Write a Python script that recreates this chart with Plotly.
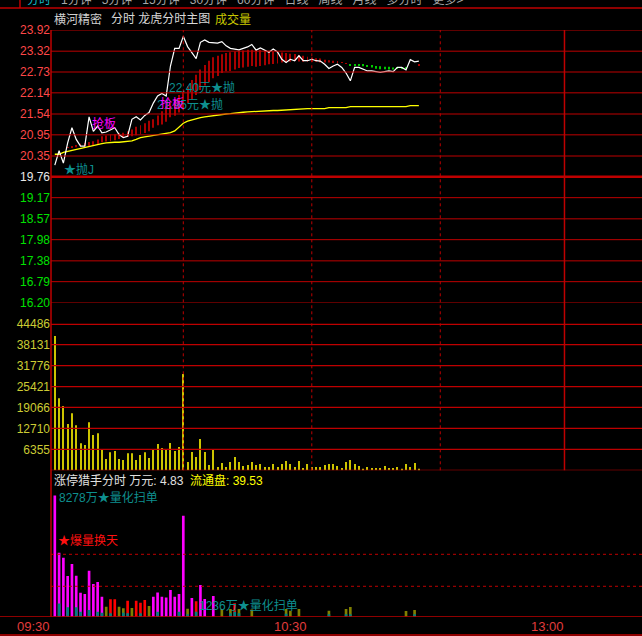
import plotly.graph_objects as go

W, H = 642, 636

# minute index, 0 = 09:30
minutes = list(range(86))

price = [20.09, 20.50, 20.15, 20.72, 21.15, 20.82, 20.63, 20.63, 21.46, 21.05,
         21.20, 21.01, 21.03, 21.08, 21.15, 20.96, 20.87, 20.91, 21.39, 21.46,
         21.37, 21.50, 21.58, 21.85, 22.05, 22.12, 22.05, 22.90, 23.40, 23.40,
         23.74, 23.45, 23.29, 23.11, 23.57, 23.64, 23.57, 23.55, 23.55, 23.59,
         23.47, 23.40, 23.38, 23.36, 23.40, 23.44, 23.51, 23.35, 23.41, 23.36,
         23.29, 23.38, 23.30, 23.09, 23.00, 23.09, 23.05, 23.19, 23.05, 23.05,
         23.09, 23.05, 23.04, 22.95, 22.83, 22.90, 22.95, 22.86, 22.70, 22.48,
         22.86, 22.86, 22.80, 22.76, 22.76, 22.74, 22.72, 22.74, 22.76, 22.74,
         22.86, 22.86, 22.79, 23.08, 23.02, 23.04]

avg_price = [20.40, 20.40, 20.45, 20.48, 20.50, 20.53, 20.55, 20.58, 20.62, 20.65,
             20.68, 20.70, 20.72, 20.74, 20.74, 20.74, 20.75, 20.76, 20.78, 20.82,
             20.87, 20.89, 20.91, 20.93, 20.95, 20.97, 20.99, 21.01, 21.06, 21.16,
             21.28, 21.34, 21.38, 21.42, 21.44, 21.46, 21.48, 21.50, 21.52, 21.53,
             21.54, 21.55, 21.57, 21.58, 21.59, 21.60, 21.61, 21.62, 21.62, 21.63,
             21.63, 21.64, 21.64, 21.65, 21.66, 21.67, 21.68, 21.69, 21.69, 21.69,
             21.69, 21.69, 21.69, 21.69, 21.72, 21.72, 21.72, 21.72, 21.72, 21.75,
             21.75, 21.75, 21.75, 21.75, 21.75, 21.75, 21.75, 21.75, 21.75, 21.75,
             21.75, 21.75, 21.75, 21.78, 21.78, 21.78]

# 龙虎 bars: drawn between the fast and slow line
fast_line = [20.58, 20.58, 20.58, 20.60, 20.63, 20.66, 20.70, 20.72, 20.75, 20.77,
             20.82, 20.91, 20.93, 20.96, 20.97, 21.00, 21.01, 21.05, 21.10, 21.18,
             21.22, 21.28, 21.35, 21.39, 21.50, 21.62, 21.75, 21.85, 21.97, 22.08,
             22.18, 22.32, 22.50, 22.65, 22.80, 22.93, 23.05, 23.15, 23.19, 23.23,
             23.27, 23.29, 23.31, 23.33, 23.34, 23.36, 23.36, 23.36, 23.36, 23.35,
             23.33, 23.31, 23.30, 23.28, 23.27, 23.25, 23.24, 23.21, 23.19, 23.16,
             23.14, 23.12, 23.11, 23.08, 23.06, 23.05, 23.03, 23.00, 22.98, 22.92,
             22.91, 22.90, 22.89, 22.88, 22.86, 22.82, 22.81, 22.81, 22.80, 22.80,
             22.83, 22.84, 22.84, 22.85, 22.86, 22.94]
slow_line = [20.58, 20.58, 20.58, 20.58, 20.58, 20.60, 20.62, 20.63, 20.63, 20.65,
             20.68, 20.74, 20.76, 20.77, 20.80, 20.83, 20.87, 20.89, 20.91, 20.94,
             20.97, 21.00, 21.05, 21.15, 21.22, 21.24, 21.32, 21.45, 21.49, 21.58,
             21.67, 21.85, 21.96, 22.08, 22.22, 22.35, 22.45, 22.55, 22.62, 22.70,
             22.75, 22.76, 22.80, 22.84, 22.86, 22.88, 22.90, 22.88, 22.90, 22.92,
             22.95, 22.96, 22.97, 23.00, 23.00, 23.02, 23.04, 23.03, 23.02, 23.02,
             23.02, 23.02, 23.00, 23.00, 23.00, 23.00, 22.99, 22.99, 22.97, 22.93,
             22.93, 22.93, 22.93, 22.92, 22.91, 22.90, 22.89, 22.88, 22.88, 22.86,
             22.86, 22.86, 22.85, 22.85, 22.86, 22.92]

volume = [40760, 21850, 19520, 14050, 17300, 13660, 8190, 7680, 14570, 10710,
          11230, 6460, 3430, 5460, 5860, 3430, 3130, 5160, 5160, 3130,
          4640, 5460, 3730, 6160, 7980, 6770, 6160, 8290, 5860, 7070,
          29230, 2520, 5550, 4040, 9500, 5550, 1610, 6160, 1000, 2220,
          1000, 2520, 4040, 2520, 1300, 1610, 2520, 1610, 1910, 1000,
          1000, 1910, 1000, 1910, 2820, 1910, 1000, 2820, 700, 1910,
          1000, 1000, 1000, 1610, 1910, 1910, 1300, 700, 2520, 3130,
          1910, 1300, 400, 1000, 700, 700, 700, 1300, 700, 700,
          1000, 400, 1910, 1000, 2220, 400]

# 涨停猎手 (万元): m = magenta, r = red, o = olive
hunter_val = [8278, 4370, 4030, 2780, 3600, 2800, 1640, 1550, 3140, 2230,
              2370, 1370, 683, 1190, 1200, 683, 570, 1090, 590, 1090,
              960, 1140, 730, 1370, 1660, 1370, 1320, 1820, 1370, 1550,
              6900, 550, 1280, 1060, 2160, 1210, 0, 1410, 0, 525,
              0, 525, 915, 525, 0, 0, 500, 0, 0, 0,
              0, 0, 0, 0, 525, 400, 0, 525, 0, 0,
              0, 0, 0, 0, 400, 0, 0, 0, 525, 660,
              0, 0, 0, 0, 0, 0, 0, 0, 0, 0,
              0, 0, 390, 0, 460, 0]
hunter_kind = ["m", "m", "m", "m", "m", "m", "m", "m", "m", "m",
               "m", "m", "o", "r", "r", "o", "o", "r", "o", "r",
               "r", "r", "o", "m", "m", "m", "m", "m", "m", "m",
               "m", "o", "m", "r", "m", "m", "", "m", "", "o",
               "", "o", "r", "o", "", "", "o", "", "", "",
               "", "", "", "", "o", "o", "", "o", "", "",
               "", "", "", "", "o", "", "", "", "o", "o",
               "", "", "", "", "", "", "", "", "", "",
               "", "", "o", "", "o", ""]
hunter_teal = [0, 910, 0, 640, 0, 640, 340, 0, 455, 0,
               340, 270, 0, 230, 0, 0, 270, 230, 0, 0,
               230, 0, 0, 0, 340, 0, 0, 0, 0, 340,
               0, 160, 0, 340, 0, 0, 0, 0, 0, 0,
               0, 230, 340, 230, 0, 0, 0, 0, 0, 0,
               0, 0, 0, 0, 200, 0, 0, 0, 0, 0,
               0, 0, 0, 0, 160, 0, 0, 0, 160, 160,
               0, 0, 0, 0, 0, 0, 0, 0, 0, 0,
               0, 0, 0, 0, 160, 0]
hunter_levels = [4262, 2077]

price_ticks = [23.92, 23.32, 22.73, 22.14, 21.54, 20.95, 20.35, 19.76,
               19.17, 18.57, 17.98, 17.38, 16.79, 16.20]
prev_close = 19.76
vol_ticks = [44486, 38131, 31776, 25421, 19066, 12710, 6355]
half_hours = [30, 60, 90]
lunch_break = 119
time_labels = ["09:30", "10:30", "13:00"]
time_pos = [0, 60, 120]

RED = "#BE0000"
TEAL = "#0E8F8F"
FONT = "Liberation Sans, Noto Sans CJK SC"
KIND_COLOR = {"m": "#FF00FF", "r": "#FF0000", "o": "#808000", "": "#000000"}


def paper_y(py):
    return 1 - py / H


price_dom = [paper_y(302.5), paper_y(30)]
vol_dom = [paper_y(470.3), paper_y(323.7)]
hunt_dom = [paper_y(616.7), paper_y(470.3)]
x_dom = [51 / W, 1]
x_rng = [-0.89, 137.1]


def tick_color(v):
    if v > prev_close:
        return "#FF4848"
    if v < prev_close:
        return "#00E000"
    return "#E8E8E8"


price_text = ['<span style="color:%s">%.2f</span>' % (tick_color(v), v) for v in price_ticks]
vol_text = [str(v) for v in vol_ticks]

fig = go.Figure()

bar_col = [("#A80000" if f >= s else "#00C800") for f, s in zip(fast_line, slow_line)]
fig.add_trace(go.Bar(x=minutes, y=[f - s for f, s in zip(fast_line, slow_line)],
                     base=slow_line, width=0.22, marker=dict(color=bar_col, line_width=0),
                     xaxis="x", yaxis="y"))
fig.add_trace(go.Scatter(x=minutes, y=avg_price, mode="lines",
                         line=dict(color="#FFFF00", width=1.3), xaxis="x", yaxis="y"))
fig.add_trace(go.Scatter(x=minutes, y=price, mode="lines",
                         line=dict(color="#FFFFFF", width=1.2), xaxis="x", yaxis="y"))

fig.add_trace(go.Bar(x=minutes, y=volume, width=0.24,
                     marker=dict(color="#CCC400", line_width=0), xaxis="x2", yaxis="y2"))

fig.add_trace(go.Bar(x=minutes, y=hunter_val, width=0.62,
                     marker=dict(color=[KIND_COLOR[k] for k in hunter_kind], line_width=0),
                     xaxis="x3", yaxis="y3"))
fig.add_trace(go.Bar(x=minutes, y=hunter_teal, width=0.62,
                     marker=dict(color="#008080", line_width=0), xaxis="x3", yaxis="y3"))

shapes = []
for v in price_ticks:
    shapes.append(dict(type="line", xref="x domain", x0=0, x1=1, yref="y", y0=v, y1=v,
                       line=dict(color=RED, width=2.5 if v == prev_close else 1)))
for v in vol_ticks + [0]:
    shapes.append(dict(type="line", xref="x2 domain", x0=0, x1=1, yref="y2", y0=v, y1=v,
                       line=dict(color=RED, width=2.5 if v == vol_ticks[0] else 1.2)))
for v in hunter_levels:
    shapes.append(dict(type="line", xref="x3 domain", x0=0, x1=1, yref="y3", y0=v, y1=v,
                       line=dict(color=RED, width=1, dash="dot")))
for m in half_hours:
    shapes.append(dict(type="line", xref="x", x0=m, x1=m, yref="paper",
                       y0=vol_dom[0], y1=price_dom[1],
                       line=dict(color=RED, width=1, dash="dot")))
shapes.append(dict(type="line", xref="x", x0=lunch_break, x1=lunch_break, yref="paper",
                   y0=vol_dom[0], y1=price_dom[1], line=dict(color=RED, width=1.5)))
shapes.append(dict(type="line", xref="paper", x0=x_dom[0], x1=x_dom[0], yref="paper",
                   y0=hunt_dom[0], y1=price_dom[1], line=dict(color=RED, width=1.5)))
# frame lines of the window
for py in [8, 635]:
    shapes.append(dict(type="line", xref="paper", x0=0, x1=1, yref="paper",
                       y0=paper_y(py), y1=paper_y(py), line=dict(color=RED, width=1.5)))
shapes.append(dict(type="line", xref="paper", x0=0, x1=1, yref="y3", y0=0, y1=0,
                   line=dict(color=RED, width=1.5)))
shapes.append(dict(type="line", xref="paper", x0=20 / W, x1=20 / W, yref="paper",
                   y0=paper_y(8), y1=1, line=dict(color=RED, width=1.5)))


def label(text, x, y, color, xref="paper", yref="paper", size=12, anchor="left", **kw):
    return dict(text=text, x=x, y=y, xref=xref, yref=yref, showarrow=False,
                xanchor=anchor, yanchor="middle", font=dict(family=FONT, size=size, color=color),
                **kw)


tabs = ('<span style="color:#10B8C8">分时</span>   1分钟   5分钟   15分钟   30分钟   '
        '60分钟   日线   周线   月线   多分时   更多&gt;')
annotations = [
    dict(text=tabs, x=25 / W, y=paper_y(9), xref="paper", yref="paper", showarrow=False,
         xanchor="left", yanchor="bottom", font=dict(family=FONT, size=12, color="#A8A8A8")),
    label("横河精密", 52 / W, paper_y(19), "#D0D0D0"),
    label("分时 龙虎分时主图", 109 / W, paper_y(19), "#D8D8D8"),
    label("成交量", 213 / W, paper_y(19), "#C8C800"),
    label("★抛J", 1.7, 19.98, TEAL, xref="x", yref="y"),
    label("抢板", 8.2, 21.26, "#FF00FF", xref="x", yref="y"),
    label("22.40元★抛", 26.2, 22.28, TEAL, xref="x", yref="y"),
    label("21.95元★抛", 23.4, 21.82, TEAL, xref="x", yref="y"),
    label("抢板", 24.1, 21.85, "#FF00FF", xref="x", yref="y"),
    label("涨停猎手分时 万元: 4.83", 52 / W, paper_y(480), "#E0E0E0"),
    label("流通盘: 39.53", 188 / W, paper_y(480), "#FFFF00"),
    label("8278万★量化扫单", 0.5, 8107, TEAL, xref="x3", yref="y3"),
    label("★爆量换天", 0.3, 5170, "#FF1010", xref="x3", yref="y3"),
    label("1236万★量化扫单", 33.2, 730, TEAL, xref="x3", yref="y3"),
]
for t, m in zip(time_labels, time_pos):
    annotations.append(label(t, m, paper_y(626), "#E23C3C", xref="x3", size=13,
                             anchor="right", xshift=-3))

x_common = dict(domain=x_dom, range=x_rng, showgrid=False, zeroline=False,
                showticklabels=False, showline=False, ticks="", fixedrange=True)
tick_font = dict(family=FONT, size=12, color="#E8E8E8")

fig.update_layout(
    width=W, height=H,
    margin=dict(l=0, r=0, t=0, b=0, pad=0, autoexpand=False),
    paper_bgcolor="#000000", plot_bgcolor="#000000",
    showlegend=False, barmode="overlay",
    xaxis=dict(x_common, anchor="y"),
    xaxis2=dict(x_common, anchor="y2"),
    xaxis3=dict(x_common, anchor="y3"),
    yaxis=dict(domain=price_dom, range=[price_ticks[-1], price_ticks[0]], anchor="x",
               tickvals=price_ticks, ticktext=price_text, tickfont=tick_font,
               showgrid=False, zeroline=False, ticks="", fixedrange=True),
    yaxis2=dict(domain=vol_dom, range=[0, vol_ticks[0]], anchor="x2",
                tickvals=vol_ticks, ticktext=vol_text,
                tickfont=dict(family=FONT, size=12, color="#CCCC33"),
                showgrid=False, zeroline=False, ticks="", fixedrange=True),
    yaxis3=dict(domain=hunt_dom, range=[0, 10000], anchor="x3", showticklabels=False,
                showgrid=False, zeroline=False, ticks="", fixedrange=True),
    shapes=shapes,
    annotations=annotations,
)

page_css = ("var r=document.documentElement, b=document.body;"
            "r.style.margin='0';r.style.padding='0';r.style.background='#000';r.style.overflow='hidden';"
            "b.style.margin='0';b.style.padding='0';b.style.background='#000';b.style.overflow='hidden';")
fig.write_html("out.html", config={"displayModeBar": False}, post_script=page_css)
